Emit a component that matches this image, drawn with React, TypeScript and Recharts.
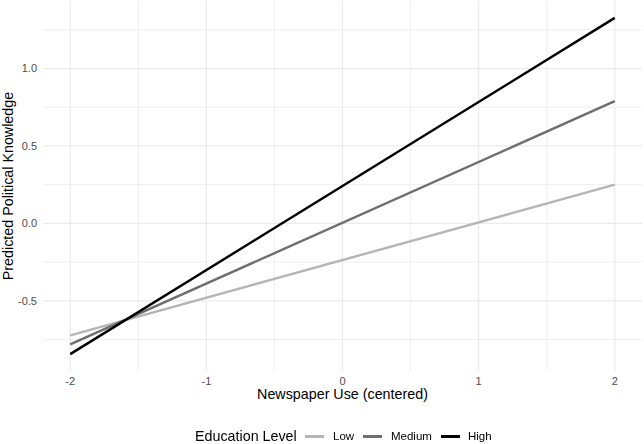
import { LineChart, Line, XAxis, YAxis, ReferenceLine } from 'recharts';

// predicted values at the two ends of the newspaper-use range
const xValues = [-2, 2];
const lowValues = [-0.723, 0.25];
const mediumValues = [-0.781, 0.789];
const highValues = [-0.844, 1.327];

const xTicks = [-2, -1, 0, 1, 2];
const yTicks = [-0.5, 0, 0.5, 1.0];
const xMinor = [-1.5, -0.5, 0.5, 1.5];
const yMinor = [-0.75, -0.25, 0.25, 0.75, 1.25];

const SERIES = [
  { key: 'low', label: 'Low', color: '#B5B5B5', keyX: 305, textX: 333 },
  { key: 'medium', label: 'Medium', color: '#6E6E6E', keyX: 363, textX: 391 },
  { key: 'high', label: 'High', color: '#000000', keyX: 441, textX: 468 },
] as const;

const data = xValues.map((x, i) => ({
  x,
  low: lowValues[i],
  medium: mediumValues[i],
  high: highValues[i],
}));

const FONT = '"Liberation Sans", Arial, sans-serif';
const GRID = '#EBEBEB';

export default function App() {
  return (
    <div style={{ position: 'fixed', top: 0, left: 0, width: 644, height: 444, background: '#fff', fontFamily: FONT }}>
      <LineChart width={644} height={444} data={data} margin={{ top: 1, right: 2, bottom: 0, left: 0 }}>
        {yMinor.map((v) => (
          <ReferenceLine key={`ym${v}`} y={v} stroke={GRID} strokeWidth={0.8} />
        ))}
        {xMinor.map((v) => (
          <ReferenceLine key={`xm${v}`} x={v} stroke={GRID} strokeWidth={0.8} />
        ))}
        {yTicks.map((v) => (
          <ReferenceLine key={`y${v}`} y={v} stroke={GRID} strokeWidth={1.2} />
        ))}
        {xTicks.map((v) => (
          <ReferenceLine key={`x${v}`} x={v} stroke={GRID} strokeWidth={1.2} />
        ))}
        <XAxis
          dataKey="x"
          type="number"
          domain={[-2.2, 2.2]}
          ticks={xTicks}
          axisLine={false}
          tickLine={false}
          tickSize={4}
          tickMargin={2}
          height={73}
          tick={{ fontSize: 11, fill: '#4D4D4D', fontFamily: FONT }}
          tickFormatter={(v) => String(v)}
          label={{
            value: 'Newspaper Use (centered)',
            position: 'insideTop',
            offset: 18,
            fontSize: 14.3,
            fill: '#000',
            fontFamily: FONT,
          }}
        />
        <YAxis
          type="number"
          domain={[-0.953, 1.436]}
          ticks={yTicks}
          axisLine={false}
          tickLine={false}
          tickSize={4}
          tickMargin={2}
          width={43}
          tick={{ fontSize: 11, fill: '#4D4D4D', fontFamily: FONT }}
          tickFormatter={(v: number) => v.toFixed(1)}
          label={{
            value: 'Predicted Political Knowledge',
            angle: -90,
            position: 'insideLeft',
            offset: 0,
            dx: 8,
            fontSize: 14.3,
            fill: '#000',
            fontFamily: FONT,
            style: { textAnchor: 'middle' },
          }}
        />
        {SERIES.map((s) => (
          <Line
            key={s.key}
            dataKey={s.key}
            type="linear"
            stroke={s.color}
            strokeWidth={2.4}
            dot={false}
            isAnimationActive={false}
          />
        ))}
      </LineChart>
      <div style={{ position: 'absolute', top: 426, left: 0, width: 644, height: 20, fontFamily: FONT }}>
        <span style={{ position: 'absolute', left: 195, top: 1, fontSize: 14.3, lineHeight: '18px' }}>Education Level</span>
        {SERIES.map((s) => (
          <span key={s.key}>
            <span
              style={{ position: 'absolute', left: s.keyX, top: 9, width: 19, height: 2.6, background: s.color }}
            />
            <span style={{ position: 'absolute', left: s.textX, top: 2, fontSize: 11.5, lineHeight: '16px' }}>
              {s.label}
            </span>
          </span>
        ))}
      </div>
    </div>
  );
}
